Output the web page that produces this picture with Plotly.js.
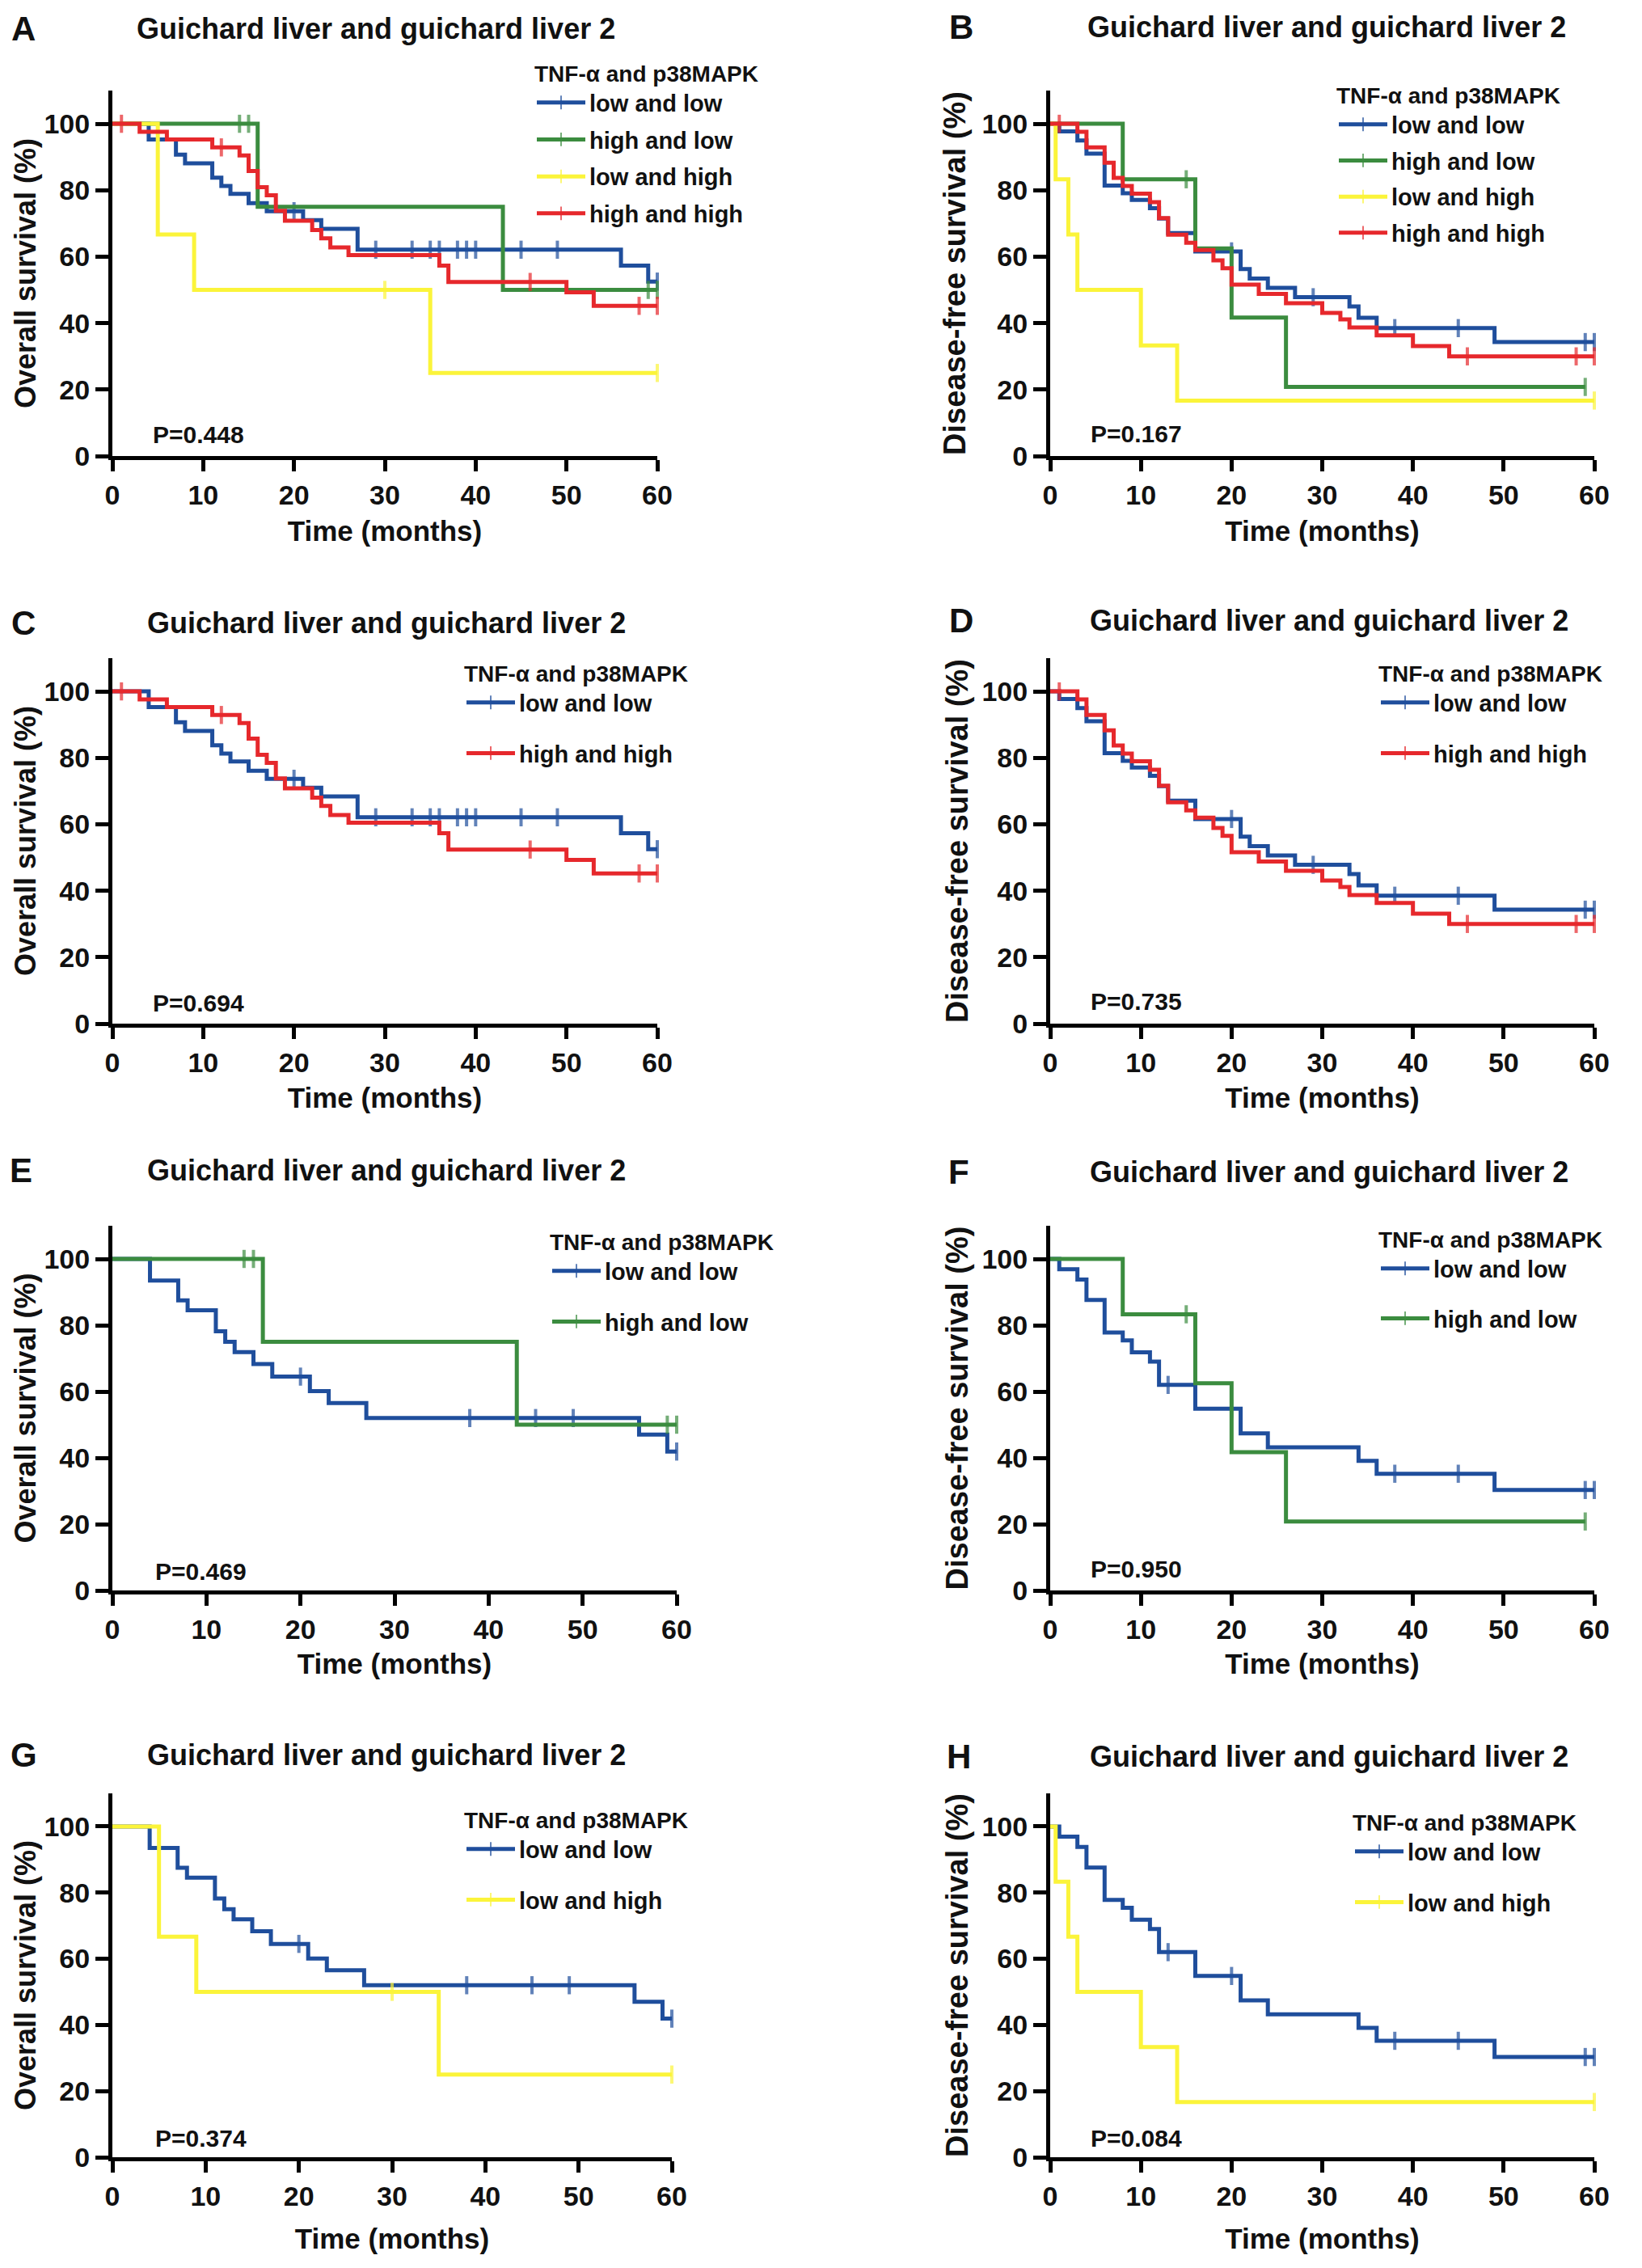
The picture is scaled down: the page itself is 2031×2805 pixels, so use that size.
<!DOCTYPE html>
<html>
<head>
<meta charset="utf-8">
<script src="https://cdn.plot.ly/plotly-3.0.1.min.js"></script>
<style>
html,body{margin:0;padding:0;background:#fff;}
#chart{width:2031px;height:2805px;}
</style>
</head>
<body>
<div id="chart"></div>
<script>
// ---------------- DATA ----------------
// Overall survival, Guichard liver and guichard liver 2
const osLowLowT   = [4, 7, 8, 11, 12, 13, 15, 17, 21, 23, 27, 56, 59];
const osLowLowS   = [95.3, 90.7, 88.1, 83.8, 81.3, 78.9, 76.1, 73.7, 71.0, 68.4, 62.1, 57.3, 52.5];
const osLowLowC   = [20, 29, 33, 35, 36, 38, 39, 40, 45, 49, 60];

const osHighLowT  = [16, 43];
const osHighLowS  = [75.0, 50.0];
const osHighLowC  = [14, 15, 59, 60];

const osLowHighT  = [5, 9, 35];
const osLowHighS  = [66.7, 50.0, 25.0];
const osLowHighC  = [30, 60];

const osHighHighT = [3, 6, 11, 14, 15, 16, 17, 18, 19, 22, 23, 24, 26, 36, 37, 50, 53];
const osHighHighS = [97.6, 95.3, 92.9, 90.5, 85.8, 80.9, 78.5, 73.8, 70.8, 68.0, 65.5, 62.8, 60.5, 57.3, 52.4, 49.3, 45.2];
const osHighHighC = [1, 12, 46, 58, 60];

// Overall survival, "low and low" curve of panels E and G
const osLowLow2T  = [4, 7, 8, 11, 12, 13, 15, 17, 21, 23, 27, 56, 59];
const osLowLow2S  = [93.5, 87.5, 84.5, 78.2, 75.0, 71.9, 68.3, 64.5, 60.1, 56.5, 52.0, 47.0, 41.9];
const osLowLow2C  = [20, 38, 45, 49, 60];

// Disease-free survival
const dfsLowLowT   = [1, 3, 4, 6, 8, 9, 11, 12, 13, 16, 21, 22, 24, 27, 33, 34, 36, 49];
const dfsLowLowS   = [97.7, 95.0, 91.0, 81.4, 79.1, 77.1, 74.6, 71.5, 67.1, 61.6, 56.3, 53.4, 50.6, 47.8, 45.0, 41.6, 38.5, 34.3];
const dfsLowLowC   = [20, 29, 38, 45, 59, 60];

const dfsHighLowT  = [8, 16, 20, 26];
const dfsHighLowS  = [83.3, 62.5, 41.7, 20.8];
const dfsHighLowC  = [15, 59];

const dfsLowHighT  = [0.6, 2, 3, 10, 14];
const dfsLowHighS  = [83.3, 66.7, 50.0, 33.3, 16.7];
const dfsLowHighC  = [60];

const dfsHighHighT = [3, 4, 6, 7, 8, 9, 11, 12, 13, 15, 16, 18, 19, 20, 23, 26, 30, 32, 33, 36, 40, 44];
const dfsHighHighS = [97.6, 92.9, 88.3, 83.7, 81.3, 79.0, 76.4, 71.6, 66.6, 64.2, 62.0, 58.9, 56.5, 51.6, 48.8, 46.0, 43.1, 41.1, 38.7, 36.3, 33.1, 30.0];
const dfsHighHighC = [1, 46, 58, 60];

// Disease-free survival, "low and low" curve of panels F and H
const dfsLowLow2T  = [1, 3, 4, 6, 8, 9, 11, 12, 16, 21, 24, 34, 36, 49];
const dfsLowLow2S  = [96.9, 93.8, 87.6, 77.8, 75.4, 71.8, 69.0, 62.0, 54.8, 47.4, 43.2, 39.1, 35.2, 30.3];
const dfsLowLow2C  = [13, 20, 38, 45, 59, 60];

const panelLetters = ['A', 'B', 'C', 'D', 'E', 'F', 'G', 'H'];
const pValues      = ['0.448', '0.167', '0.694', '0.735', '0.469', '0.950', '0.374', '0.084'];
const xTickVals    = [0, 10, 20, 30, 40, 50, 60];
const yTickVals    = [0, 20, 40, 60, 80, 100];
const panelTitle   = 'Guichard liver and guichard liver 2';
const legendTitle  = 'TNF-α and p38MAPK';
const osLabel      = 'Overall survival (%)';
const dfsLabel     = 'Disease-free survival (%)';
const timeLabel    = 'Time (months)';

// ---------------- STYLE / LAYOUT ----------------
const W = 2031, H = 2805;
const px = v => v / W;
const py = v => 1 - v / H;
const FONT = 'Liberation Sans, Arial, Helvetica, sans-serif';
const COL = {blue: '#1f4e9c', green: '#3b8c3f', yellow: '#fbf43a', red: '#e6282c'};

const S = {
  osLL:  {name: 'low and low',   color: COL.blue,   T: osLowLowT,   V: osLowLowS,   C: osLowLowC},
  osHL:  {name: 'high and low',  color: COL.green,  T: osHighLowT,  V: osHighLowS,  C: osHighLowC},
  osLH:  {name: 'low and high',  color: COL.yellow, T: osLowHighT,  V: osLowHighS,  C: osLowHighC},
  osHH:  {name: 'high and high', color: COL.red,    T: osHighHighT, V: osHighHighS, C: osHighHighC},
  osLL2: {name: 'low and low',   color: COL.blue,   T: osLowLow2T,  V: osLowLow2S,  C: osLowLow2C},
  dfLL:  {name: 'low and low',   color: COL.blue,   T: dfsLowLowT,  V: dfsLowLowS,  C: dfsLowLowC},
  dfHL:  {name: 'high and low',  color: COL.green,  T: dfsHighLowT, V: dfsHighLowS, C: dfsHighLowC},
  dfLH:  {name: 'low and high',  color: COL.yellow, T: dfsLowHighT, V: dfsLowHighS, C: dfsLowHighC},
  dfHH:  {name: 'high and high', color: COL.red,    T: dfsHighHighT,V: dfsHighHighS,C: dfsHighHighC},
  dfLL2: {name: 'low and low',   color: COL.blue,   T: dfsLowLow2T, V: dfsLowLow2S, C: dfsLowLow2C}
};

// panel geometry in pixels
const panels = [
  {series: ['osLL','osHL','osLH','osHH'], yt: osLabel,  ytf: 36, xd: [139, 813],  yd: [112, 564],   let: [29, 36],    tit: [465, 36],    leg: [665, 87, 5],    p: [187, 538],   ytx: 32,   xts: 16},
  {series: ['dfLL','dfHL','dfLH','dfHH'], yt: dfsLabel, ytf: 38, xd: [1299, 1972], yd: [112, 564],  let: [1189, 34],  tit: [1641, 34],   leg: [1657, 114, 4],  p: [1347, 536],  ytx: 1186, xts: 16},
  {series: ['osLL','osHH'],               yt: osLabel,  ytf: 36, xd: [139, 813],  yd: [814, 1266],  let: [29, 770],   tit: [478, 770],   leg: [578, 829, 22],  p: [187, 1240],  ytx: 32,   xts: 15},
  {series: ['dfLL','dfHH'],               yt: dfsLabel, ytf: 38, xd: [1299, 1972], yd: [814, 1266], let: [1189, 767], tit: [1644, 767],  leg: [1709, 829, 22], p: [1347, 1238], ytx: 1189, xts: 15},
  {series: ['osLL2','osHL'],              yt: osLabel,  ytf: 36, xd: [139, 837],  yd: [1516, 1967], let: [26, 1447],  tit: [478, 1447],  leg: [684, 1532, 22], p: [190, 1943],  ytx: 32,   xts: 14},
  {series: ['dfLL2','dfHL'],              yt: dfsLabel, ytf: 38, xd: [1299, 1972], yd: [1516, 1967],let: [1186, 1449],tit: [1644, 1449], leg: [1709, 1529, 21], p: [1347, 1940], ytx: 1189, xts: 14},
  {series: ['osLL2','osLH'],              yt: osLabel,  ytf: 36, xd: [139, 831],  yd: [2218, 2668], let: [29, 2170],  tit: [478, 2170],  leg: [578, 2247, 22], p: [190, 2644],  ytx: 32,   xts: 24},
  {series: ['dfLL2','dfLH'],              yt: dfsLabel, ytf: 38, xd: [1299, 1972], yd: [2218, 2668],let: [1186, 2172],tit: [1644, 2172], leg: [1677, 2250, 22], p: [1347, 2644], ytx: 1189, xts: 24}
];

function kmPoints(T, V, C) {
  const pts = [{t: 0, s: 100, c: 0}];
  T.forEach((t, i) => pts.push({t: t, s: V[i], c: 0}));
  C.forEach(t => pts.push({t: t, s: null, c: 1}));
  pts.sort((a, b) => (a.t - b.t) || (a.c - b.c));
  let cur = 100;
  pts.forEach(p => { if (p.c) p.s = cur; else cur = p.s; });
  return pts;
}

const traces = [];
const annotations = [];
const layout = {
  width: W, height: H,
  margin: {l: 0, r: 0, t: 0, b: 0},
  paper_bgcolor: '#fff', plot_bgcolor: 'rgba(0,0,0,0)',
  font: {family: FONT, color: '#111'},
  showlegend: true,
  annotations: annotations
};

panels.forEach((P, i) => {
  const n = i + 1;
  const xk = 'xaxis' + (n === 1 ? '' : n), yk = 'yaxis' + (n === 1 ? '' : n);
  const xr = 'x' + (n === 1 ? '' : n), yr = 'y' + (n === 1 ? '' : n);
  const lk = 'legend' + (n === 1 ? '' : n);
  const rightCol = P.xd[0] > 1000;

  layout[xk] = {
    domain: [px(P.xd[0]), px(P.xd[1])], anchor: yr,
    range: [0, 60], tickvals: xTickVals, ticktext: xTickVals.map(String),
    showline: true, linewidth: 5, linecolor: '#000',
    ticks: 'outside', ticklen: 14, tickwidth: 5, tickcolor: '#000',
    showgrid: false, zeroline: false, fixedrange: true,
    tickfont: {size: 34, weight: 'bold', color: '#111', family: FONT},
    title: {text: timeLabel, font: {size: 35, weight: 'bold', color: '#111', family: FONT}, standoff: P.xts}
  };
  layout[yk] = {
    domain: [py(P.yd[1]), py(P.yd[0])], anchor: xr,
    range: [0, 110], tickvals: yTickVals, ticktext: yTickVals.map(String),
    showline: true, linewidth: 5, linecolor: '#000',
    ticks: 'outside', ticklen: 16, tickwidth: 5, tickcolor: '#000',
    showgrid: false, zeroline: false, fixedrange: true,
    tickfont: {size: 34, weight: 'bold', color: '#111', family: FONT},
    title: {text: P.yt, font: {size: P.ytf, weight: 'bold', color: '#111', family: FONT},
            standoff: Math.max(0, (P.xd[0] - P.ytx) - (rightCol ? 103 : 107))}
  };
  layout[lk] = {
    title: {text: legendTitle, font: {size: 28, weight: 'bold', color: '#111', family: FONT}, side: 'top'},
    font: {size: 29, weight: 'bold', color: '#111', family: FONT},
    x: px(P.leg[0] - 6), y: py(P.leg[1] - 22), xanchor: 'left', yanchor: 'top',
    bgcolor: 'rgba(0,0,0,0)', borderwidth: 0,
    itemwidth: 60, itemsizing: 'constant', traceorder: 'grouped',
    tracegroupgap: P.leg[2]
  };

  P.series.forEach(key => {
    const s = S[key];
    const pts = kmPoints(s.T, s.V, s.C);
    traces.push({
      type: 'scatter', mode: 'lines+markers',
      x: pts.map(p => p.t), y: pts.map(p => p.s),
      xaxis: xr, yaxis: yr, legend: lk,
      name: s.name, legendgroup: lk + key,
      line: {shape: 'hv', width: 5, color: s.color},
      marker: {symbol: 'line-ns', size: pts.map(p => p.c ? 16 : 0), color: s.color,
               line: {width: 4, color: s.color}},
      cliponaxis: false, hoverinfo: 'skip'
    });
  });

  annotations.push({
    xref: 'paper', yref: 'paper', x: px(P.let[0]), y: py(P.let[1]),
    xanchor: 'center', yanchor: 'middle', showarrow: false,
    text: panelLetters[i], font: {size: 42, weight: 'bold', color: '#111', family: FONT}
  });
  annotations.push({
    xref: 'paper', yref: 'paper', x: px(P.tit[0]), y: py(P.tit[1]),
    xanchor: 'center', yanchor: 'middle', showarrow: false,
    text: panelTitle, font: {size: 36, weight: 'bold', color: '#111', family: FONT}
  });
  annotations.push({
    xref: 'paper', yref: 'paper', x: px(P.p[0]), y: py(P.p[1]),
    xanchor: 'left', yanchor: 'middle', showarrow: false,
    text: 'P=' + pValues[i], font: {size: 30, weight: 'bold', color: '#111', family: FONT}
  });
});

Plotly.newPlot('chart', traces, layout, {staticPlot: true, displayModeBar: false});
</script>
</body>
</html>
